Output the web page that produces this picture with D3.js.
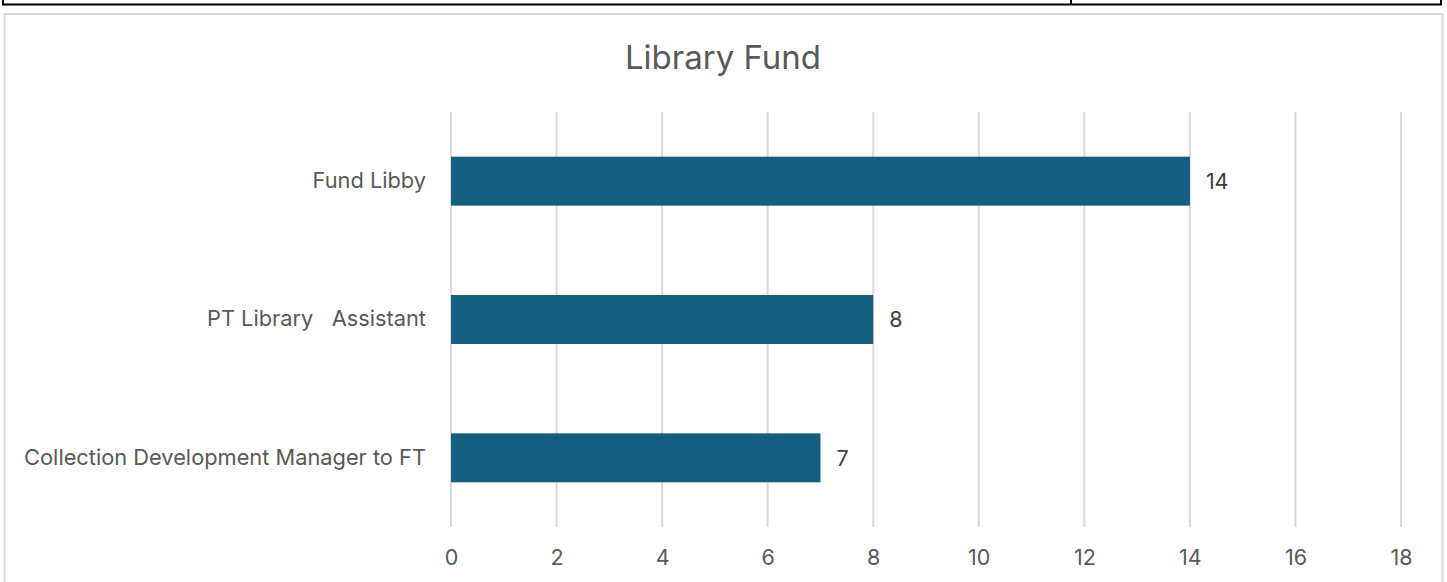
<!DOCTYPE html>
<html lang="en">
    <head>
        <meta charset="utf-8">
        <title>Library Fund</title>
        <script type="text/javascript" src="https://d3js.org/d3.v7.min.js"></script>
        <style type="text/css">
            body {
              margin: 0;
              background: #fff;
              font-family: "Inter", "Open Sans", sans-serif;
            }
        </style>
    </head>
    <body>
        <script type="text/javascript">

        //Data
        const categories = ["Fund Libby", "PT Library   Assistant", "Collection Development Manager to FT"];
        const values = [14, 8, 7];
        const ticks = [0, 2, 4, 6, 8, 10, 12, 14, 16, 18];

        const width = 1447;
        const height = 582;
        const plot = {left: 451, right: 1401, top: 112, bottom: 527};
        const font = "Inter, 'Open Sans', sans-serif";

        //Scales
        const xScale = d3.scaleLinear()
                        .domain([0, 18])
                        .range([plot.left, plot.right]);

        const yScale = d3.scaleBand()
                        .domain(categories)
                        .range([plot.top, plot.bottom])
                        .paddingInner(0.646)
                        .paddingOuter(0.323);

        //SVG
        const svg = d3.select("body")
                    .append("svg")
                    .attr("width", width)
                    .attr("height", height);

        //table borders above the chart
        svg.append("path")
            .attr("d", "M3,0V4.5H1441V0M1071,0V4.5")
            .attr("fill", "none")
            .attr("stroke", "black")
            .attr("stroke-width", 2);

        //chart frame
        svg.append("rect")
            .attr("x", 4.5)
            .attr("y", 14)
            .attr("width", 1438)
            .attr("height", 600)
            .attr("fill", "white")
            .attr("stroke", "#d9d9d9")
            .attr("stroke-width", 2);

        //Title
        svg.append("text")
            .attr("x", 723)
            .attr("y", 69)
            .attr("text-anchor", "middle")
            .attr("fill", "#595959")
            .attr("font-size", 33)
            .text("Library Fund");

        //Grid
        svg.append("g")
            .selectAll("line")
            .data(ticks)
            .enter()
            .append("line")
            .attr("x1", d => xScale(d))
            .attr("x2", d => xScale(d))
            .attr("y1", plot.top)
            .attr("y2", plot.bottom)
            .attr("stroke", "#d9d9d9")
            .attr("stroke-width", 2);

        //Bars
        svg.selectAll("rect.bar")
            .data(values)
            .enter()
            .append("rect")
            .attr("class", "bar")
            .attr("x", xScale(0))
            .attr("y", (d, i) => yScale(categories[i]))
            .attr("width", d => xScale(d) - xScale(0))
            .attr("height", yScale.bandwidth())
            .attr("fill", "#165e80");

        //Data labels
        svg.selectAll("text.val")
            .data(values)
            .enter()
            .append("text")
            .attr("class", "val")
            .attr("x", d => xScale(d) + 16)
            .attr("y", (d, i) => yScale(categories[i]) + yScale.bandwidth() / 2)
            .attr("dy", "0.36em")
            .attr("fill", "#404040")
            .attr("font-size", 21.5)
            .text(d => d);

        //Axes
        const bottomAxis = d3.axisBottom(xScale)
                            .tickValues(ticks)
                            .tickSize(0)
                            .tickPadding(23);

        const leftAxis = d3.axisLeft(yScale)
                            .tickSize(0)
                            .tickPadding(25);

        svg.append("g")
            .attr("transform", "translate(0," + plot.bottom + ")")
            .call(bottomAxis)
            .call(g => g.select(".domain").remove())
            .selectAll("text")
            .attr("fill", "#595959")
            .attr("font-size", 21.5)
            .attr("font-family", font);

        svg.append("g")
            .attr("transform", "translate(" + plot.left + ",0)")
            .call(leftAxis)
            .call(g => g.select(".domain").remove())
            .selectAll("text")
            .attr("fill", "#595959")
            .attr("font-size", 21.8)
            .attr("font-family", font)
            .style("white-space", "pre");
        </script>
    </body>
</html>
